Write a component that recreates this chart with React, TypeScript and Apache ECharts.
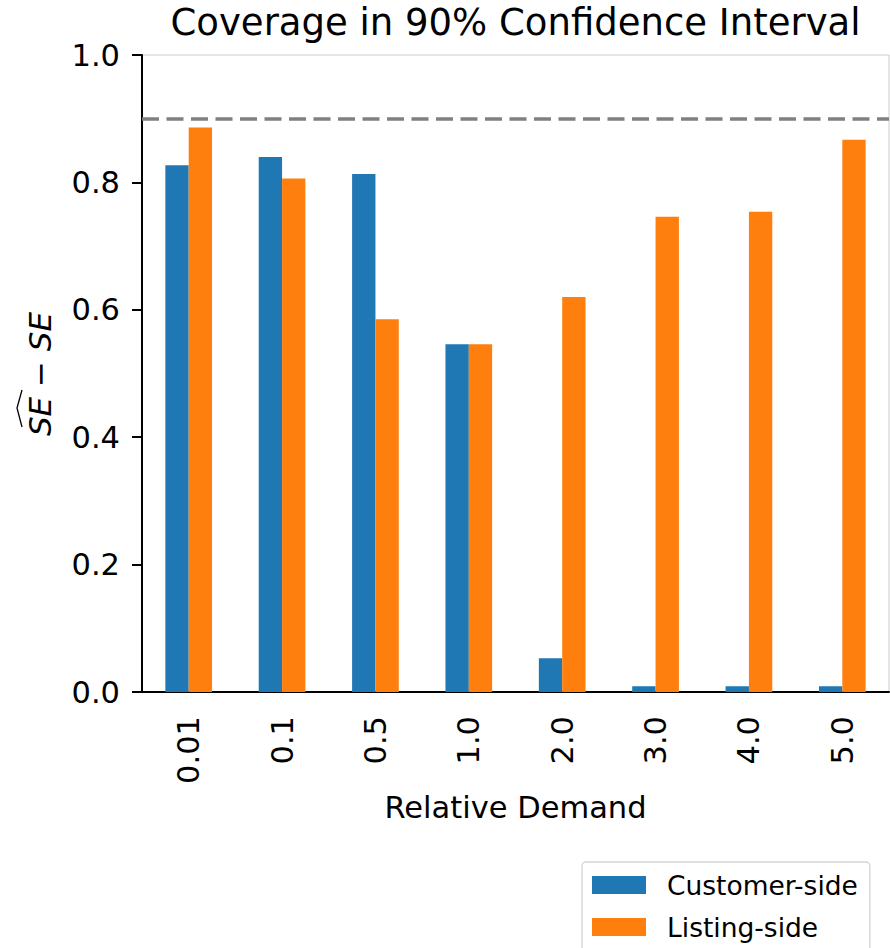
import React, { useEffect, useRef } from "react";
import * as echarts from "echarts";

const categories = ["0.01", "0.1", "0.5", "1.0", "2.0", "3.0", "4.0", "5.0"];
const customerSide = [0.827, 0.84, 0.813, 0.546, 0.053, 0.009, 0.009, 0.009];
const listingSide = [0.886, 0.806, 0.585, 0.546, 0.62, 0.746, 0.754, 0.867];
const targetLevel = 0.9;
const yTicks = { min: 0, max: 1, interval: 0.2 };

const FONT = "DejaVu Sans";

export default function App() {
  const ref = useRef<HTMLDivElement>(null);
  useEffect(() => {
    if (!ref.current) return;
    const chart = echarts.init(ref.current, null, { renderer: "svg" });
    chart.setOption({
      animation: false,
      backgroundColor: "#ffffff",
      title: {
        text: "Coverage in 90% Confidence Interval",
        left: 515.5,
        textAlign: "center",
        top: 4,
        padding: 0,
        textStyle: { fontFamily: FONT, fontSize: 37, fontWeight: "normal", color: "#000" },
      },
      grid: {
        left: 142,
        right: 1,
        top: 55,
        bottom: 256,
        show: true,
        borderColor: "#cccccc",
        borderWidth: 1,
        backgroundColor: "transparent",
      },
      legend: {
        orient: "vertical",
        left: 582,
        top: 862,
        height: 100,
        padding: [9.5, 12, 20, 10],
        itemWidth: 54,
        itemHeight: 18,
        itemGap: 15,
        icon: "rect",
        borderColor: "#d5d5d5",
        borderWidth: 1.3,
        borderRadius: 4,
        backgroundColor: "#ffffff",
        textStyle: {
          fontFamily: FONT,
          fontSize: 26.5,
          color: "#000",
          padding: [0, 0, 0, 16],
        },
        data: ["Customer-side", "Listing-side"],
      },
      xAxis: {
        type: "category",
        data: categories,
        name: "Relative Demand",
        nameLocation: "middle",
        nameGap: 96,
        nameTextStyle: { fontFamily: FONT, fontSize: 30.5, color: "#000" },
        axisLine: { lineStyle: { color: "#000", width: 2 } },
        axisTick: { alignWithLabel: true, length: 10, lineStyle: { color: "#000", width: 2 } },
        axisLabel: { rotate: 90, margin: 24, fontFamily: FONT, fontSize: 30.5, color: "#000" },
        splitLine: { show: false },
      },
      yAxis: {
        type: "value",
        min: yTicks.min,
        max: yTicks.max,
        interval: yTicks.interval,
        axisLine: { show: true, lineStyle: { color: "#000", width: 2 } },
        axisTick: { show: true, length: 10, lineStyle: { color: "#000", width: 2 } },
        axisLabel: {
          margin: 22,
          fontFamily: FONT,
          fontSize: 30.5,
          color: "#000",
          formatter: (v: number) => v.toFixed(1),
        },
        splitLine: { show: false },
      },
      series: [
        {
          name: "Customer-side",
          type: "bar",
          data: customerSide,
          barWidth: "25%",
          barGap: "0%",
          itemStyle: { color: "#1f77b4" },
          markLine: {
            silent: true,
            symbol: "none",
            label: { show: false },
            lineStyle: { color: "#808080", width: 3.5, type: [17, 7.5] },
            data: [{ yAxis: targetLevel }],
          },
        },
        {
          name: "Listing-side",
          type: "bar",
          data: listingSide,
          barWidth: "25%",
          barGap: "0%",
          itemStyle: { color: "#ff7f0e" },
        },
      ],
      graphic: [
        {
          type: "text",
          x: 40,
          y: 374,
          rotation: Math.PI / 2,
          style: {
            text: "{i|SE} − {i|SE}",
            rich: { i: { fontStyle: "italic", fontFamily: FONT, fontSize: 31, fill: "#000" } },
            fontFamily: FONT,
            fontSize: 31,
            fill: "#000",
            align: "center",
            verticalAlign: "middle",
          },
        },
        {
          type: "polyline",
          shape: { points: [[22, 390], [17, 408], [22, 427]] },
          style: { stroke: "#000", lineWidth: 1.3, fill: "none" },
        },
      ],
    });
    return () => chart.dispose();
  }, []);
  return (
    <div
      ref={ref}
      style={{ position: "fixed", left: 0, top: 0, width: 890, height: 948 }}
    />
  );
}
